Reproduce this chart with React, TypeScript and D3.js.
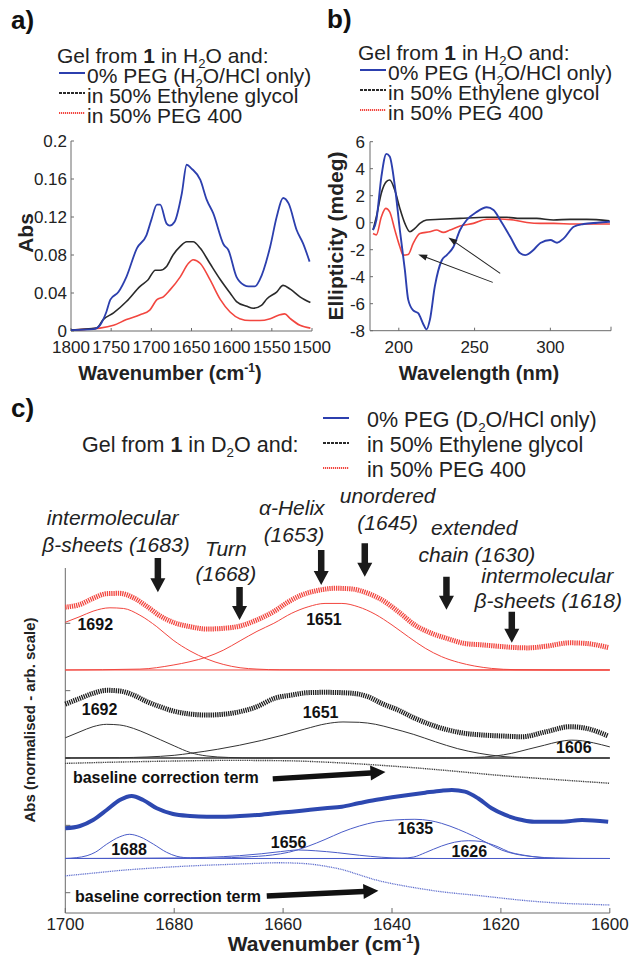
import React from "react";
import * as d3 from "d3";

type P = [number, number];

const FONT = '"Liberation Sans", Arial, Helvetica, sans-serif';
const BLUE = "#2c3fae";
const BLACK = "#2a2a2a";
const RED = "#f2463f";
const AXIS = "#6a6a6a";

// ---------- Panel a : FTIR in H2O ----------
const ftirXTicks = [1800, 1750, 1700, 1650, 1600, 1550, 1500];
const ftirYTicks = [0, 0.04, 0.08, 0.12, 0.16, 0.2];
const ftirBlue: P[] = [
  [1800, 0.001], [1772, 0.002], [1764, 0.006], [1756, 0.02], [1751, 0.033], [1741, 0.041], [1731, 0.057],
  [1718, 0.087], [1706, 0.101], [1700, 0.117], [1693, 0.133], [1689, 0.133], [1681, 0.113],
  [1677, 0.111], [1671, 0.115], [1662, 0.145], [1656, 0.175], [1650, 0.171], [1639, 0.159],
  [1631, 0.138], [1623, 0.124], [1610, 0.091], [1604, 0.085], [1594, 0.057], [1590, 0.052],
  [1579, 0.047], [1571, 0.047], [1565, 0.054], [1552, 0.089], [1544, 0.12], [1536, 0.14],
  [1529, 0.134], [1519, 0.106], [1511, 0.092], [1503, 0.073],
];
const ftirBlack: P[] = [
  [1800, 0.001], [1768, 0.003], [1760, 0.012], [1747, 0.019], [1731, 0.031], [1714, 0.047],
  [1704, 0.054], [1695, 0.064], [1689, 0.064], [1681, 0.068], [1673, 0.08], [1664, 0.089],
  [1656, 0.094], [1648, 0.094], [1639, 0.087], [1627, 0.071], [1614, 0.054], [1602, 0.04],
  [1594, 0.031], [1581, 0.026], [1573, 0.024], [1563, 0.027], [1556, 0.034], [1544, 0.041],
  [1536, 0.048], [1527, 0.044], [1515, 0.036], [1502, 0.03],
];
const ftirRed: P[] = [
  [1800, 0.001], [1764, 0.003], [1747, 0.006], [1731, 0.012], [1714, 0.017], [1702, 0.022],
  [1693, 0.033], [1685, 0.036], [1677, 0.043], [1664, 0.057], [1654, 0.071], [1648, 0.075],
  [1639, 0.071], [1627, 0.054], [1614, 0.033], [1602, 0.02], [1590, 0.013], [1577, 0.011],
  [1565, 0.011], [1552, 0.013], [1540, 0.017], [1534, 0.018], [1527, 0.013], [1515, 0.006],
  [1502, 0.003],
];

// ---------- Panel b : CD ----------
const cdXTicks = [200, 250, 300];
const cdYTicks = [-8, -6, -4, -2, 0, 2, 4, 6];
const cdBlue: P[] = [
  [183, -0.54], [185.2, 0.2], [188.5, 3.4], [191.8, 5.1], [194, 4.9], [197.4, 2.7], [200.7, -0.54],
  [204, -3.5], [206.2, -5.7], [209.5, -6.5], [212.8, -6.7], [216.1, -7.5], [218.3, -7.9],
  [220.5, -7.2], [223.8, -4.7], [228.3, -2.8], [231.6, -2.4], [236, -1.8], [240.4, -0.54],
  [244.8, 0.2], [251.4, 0.8], [258, 1.14], [262.5, 0.94], [266.9, 0.2], [273.5, -1.04],
  [280.1, -2.27], [283.4, -2.4], [289, -2.0], [293.4, -1.5], [300, -1.28], [304.4, -1.48],
  [308.8, -1.16], [315.4, -0.3], [322, -0.1], [330.9, 0], [339.3, 0.07],
];
const cdBlack: P[] = [
  [183, -0.54], [185.2, 0.44], [188.5, 2.2], [191.8, 3.04], [194, 3.16], [197.4, 2.4],
  [200.7, 1.06], [204, -0.05], [207.3, -0.67], [210.6, -0.42], [213.9, -0.05], [218.3, 0.2],
  [227.2, 0.25], [240.4, 0.32], [258, 0.4], [271.3, 0.4], [280, 0.32], [291, 0.32], [302, 0.2],
  [313, 0.25], [324, 0.25], [339, 0.15],
];
const cdRed: P[] = [
  [183, -0.8], [185.2, -0.9], [188.5, 0.44], [191.4, 1.06], [194, 0.8], [197.4, -0.54],
  [200.7, -1.78], [202.9, -2.4], [206.2, -2.35], [209.5, -1.53], [213.9, -0.8], [220.5, -0.67],
  [224.9, -0.54], [229.4, -0.72], [233.8, -0.54], [240.4, -0.25], [249.2, -0.05], [258, 0.25],
  [266.9, 0.27], [275.7, 0.2], [284.5, 0.02], [293.4, -0.05], [302.2, -0.05], [315.5, -0.1],
  [339.3, -0.1],
];
const cdArrowTails: P[] = [[266.9, -3.75], [262, -4.42]];
const cdArrowHeads: P[] = [[232.7, -1.09], [212.8, -2.35]];

// ---------- Panel c : deconvoluted FTIR in D2O ----------
const c2XTicks = [1700, 1680, 1660, 1640, 1620, 1600];
const c2YTicks = [0, 1, 2, 3, 4];

const cRedSum: P[] = [
  [1700, 4.24], [1697.3, 4.28], [1694.9, 4.37], [1692.4, 4.44], [1690, 4.445], [1687.5, 4.38],
  [1685, 4.25], [1682.6, 4.11], [1680.2, 4.015], [1677.1, 3.95], [1674, 3.915], [1671, 3.925],
  [1667.9, 3.96], [1664.8, 4.05], [1661.8, 4.17], [1659, 4.32], [1656.6, 4.42], [1653.5, 4.49],
  [1650.5, 4.52], [1647.4, 4.51], [1644.4, 4.445], [1641.9, 4.35], [1638.8, 4.17], [1635.8, 3.975],
  [1632.7, 3.85], [1629.7, 3.77], [1626.6, 3.7], [1623.5, 3.68], [1619.9, 3.655], [1617.4, 3.64],
  [1615, 3.635], [1611.7, 3.66], [1607.3, 3.71], [1604.3, 3.7], [1600.3, 3.64],
];
const cRed1692: P[] = [
  [1700, 4.015], [1697.3, 4.1], [1694.9, 4.18], [1691.8, 4.23], [1689.3, 4.22], [1686.3, 4.12],
  [1683.2, 3.95], [1680.2, 3.75], [1677.1, 3.59], [1674, 3.47], [1671, 3.39], [1667.9, 3.34],
  [1664.8, 3.32], [1660.6, 3.31], [1650, 3.307], [1600, 3.307],
];
const cRed1651: P[] = [
  [1700, 3.307], [1686.3, 3.32], [1680.2, 3.38], [1677.1, 3.43], [1674, 3.5], [1671, 3.6],
  [1667.9, 3.74], [1664.8, 3.88], [1661.7, 4.0], [1658.4, 4.15], [1655.4, 4.245], [1652.3, 4.295],
  [1649.2, 4.295], [1646.2, 4.245], [1643.1, 4.135], [1640, 3.975], [1637, 3.8], [1633.9, 3.63],
  [1630.9, 3.505], [1627.8, 3.42], [1624.8, 3.365], [1621.7, 3.33], [1617.4, 3.312], [1610, 3.307],
  [1600, 3.307],
];
const cRedBase: P[] = [[1700, 3.307], [1600, 3.307]];

const cBlackSum: P[] = [
  [1700, 2.8], [1697.3, 2.886], [1694.9, 2.96], [1692.4, 3.005], [1690, 2.995], [1687.5, 2.935],
  [1685, 2.836], [1682.6, 2.762], [1680.2, 2.698], [1677.1, 2.653], [1674, 2.638], [1671, 2.649],
  [1667.9, 2.688], [1664.8, 2.762], [1661.6, 2.886], [1658.4, 2.935], [1655.4, 2.97],
  [1652.3, 2.975], [1649.2, 2.97], [1646.2, 2.95], [1644.4, 2.91], [1641.9, 2.81], [1638.8, 2.71],
  [1635.8, 2.59], [1632.7, 2.49], [1629.7, 2.416], [1626.6, 2.366], [1623.5, 2.342],
  [1619.9, 2.327], [1616.1, 2.316], [1611.7, 2.39], [1607.3, 2.465], [1604.3, 2.44], [1600.3, 2.327],
];
const cBlack1692: P[] = [
  [1700, 2.3], [1697.3, 2.39], [1694.9, 2.465], [1692.4, 2.5], [1690, 2.49], [1687.5, 2.44],
  [1685, 2.36], [1682.5, 2.27], [1680, 2.18], [1677, 2.08], [1674, 2.03], [1670, 2.008],
  [1665, 2.0], [1600, 2.0],
];
const cBlack1651: P[] = [
  [1700, 2.0], [1690, 2.005], [1685, 2.015], [1680, 2.04], [1677, 2.07], [1672, 2.13],
  [1668, 2.19], [1664, 2.26], [1660, 2.34], [1656, 2.43], [1652, 2.51], [1649, 2.535],
  [1646, 2.53], [1643, 2.5], [1640, 2.44], [1636, 2.35], [1632, 2.24], [1628, 2.14],
  [1624, 2.07], [1620, 2.025], [1616, 2.005], [1610, 2.0], [1600, 2.0],
];
const cBlack1606: P[] = [
  [1700, 2.0], [1630, 2.0], [1625, 2.008], [1621, 2.03], [1618, 2.07], [1615, 2.13],
  [1612, 2.19], [1609.5, 2.24], [1607, 2.265], [1605, 2.255], [1603, 2.225], [1600, 2.165],
];
const cBlackBase: P[] = [[1700, 2.0], [1600, 2.0]];
const cBlackCorr: P[] = [
  [1700, 1.92], [1690, 1.94], [1680, 1.955], [1670, 1.965], [1660, 1.96], [1650, 1.93],
  [1640, 1.88], [1630, 1.815], [1620, 1.74], [1610, 1.68], [1600, 1.625],
];

const cBlueSum: P[] = [
  [1700, 0.956], [1697.3, 0.99], [1694.9, 1.079], [1692.4, 1.228], [1690, 1.376], [1687.8, 1.436],
  [1685.7, 1.376], [1683.2, 1.253], [1680.2, 1.168], [1677.1, 1.139], [1674, 1.129], [1671, 1.129],
  [1667.9, 1.139], [1664.8, 1.154], [1661.5, 1.18], [1658.4, 1.203], [1655.4, 1.228],
  [1652.3, 1.253], [1649.2, 1.277], [1646.2, 1.327], [1643.1, 1.376], [1640, 1.416], [1637, 1.451],
  [1633.9, 1.485], [1630.9, 1.515], [1629, 1.525], [1626.6, 1.5], [1624.2, 1.402], [1621.7, 1.253],
  [1619.2, 1.154], [1617.4, 1.104], [1616.1, 1.079], [1613.9, 1.054], [1608.8, 1.054],
  [1605.1, 1.079], [1600.3, 1.054],
];
const cBlue1688: P[] = [
  [1700, 0.509], [1698, 0.52], [1696, 0.55], [1694.5, 0.6], [1692.4, 0.72], [1690, 0.83],
  [1688.2, 0.867], [1686.3, 0.83], [1683.8, 0.72], [1681.4, 0.6], [1679.5, 0.54], [1677, 0.515],
  [1674, 0.508], [1600, 0.508],
];
const cBlue1656: P[] = [
  [1700, 0.508], [1690, 0.51], [1680, 0.515], [1674, 0.525], [1668, 0.55], [1664, 0.578],
  [1660.5, 0.61], [1657.2, 0.634], [1654, 0.622], [1650, 0.594], [1646, 0.556], [1642, 0.527],
  [1638, 0.512], [1632, 0.508], [1600, 0.508],
];
const cBlue1635: P[] = [
  [1700, 0.508], [1680, 0.509], [1672, 0.515], [1667, 0.53], [1662, 0.56], [1659, 0.6],
  [1655.4, 0.69], [1652.3, 0.79], [1649.2, 0.9], [1646, 0.99], [1643, 1.05], [1639.5, 1.08],
  [1635.8, 1.09], [1633, 1.07], [1630.9, 1.03], [1627.8, 0.94], [1624.8, 0.832], [1622.3, 0.73],
  [1619.9, 0.634], [1617.4, 0.575], [1614, 0.535], [1610, 0.515], [1605, 0.509], [1600, 0.508],
];
const cBlue1626: P[] = [
  [1700, 0.508], [1642, 0.508], [1638.2, 0.512], [1636, 0.53], [1633.9, 0.594], [1630.9, 0.693],
  [1628.5, 0.75], [1626, 0.772], [1623.5, 0.76], [1622.3, 0.733], [1620.5, 0.68], [1618.6, 0.609],
  [1616, 0.56], [1613, 0.525], [1610, 0.512], [1606, 0.508], [1600, 0.508],
];
const cBlueBase: P[] = [[1700, 0.508], [1600, 0.508]];
const cBlueCorr: P[] = [
  [1700, 0.25], [1695, 0.29], [1690, 0.33], [1685, 0.36], [1680, 0.385], [1675, 0.405],
  [1670, 0.42], [1665, 0.435], [1661, 0.445], [1658, 0.44], [1655, 0.425], [1652, 0.39],
  [1649, 0.34], [1646, 0.265], [1643, 0.19], [1640, 0.135], [1637, 0.09], [1634, 0.05],
  [1631, 0.015], [1628, -0.012], [1625, -0.035], [1621, -0.07], [1617, -0.105], [1612, -0.14],
  [1608, -0.16], [1604, -0.172], [1600, -0.183],
];

// peak labels: text, wavenumber (centre), level (baseline)
const cPeakLabels: { t: string; w: number; u: number }[] = [
  { t: "1692", w: 1694.5, u: 3.9 },
  { t: "1651", w: 1652.5, u: 3.975 },
  { t: "1692", w: 1693.7, u: 2.64 },
  { t: "1651", w: 1653.1, u: 2.595 },
  { t: "1606", w: 1606.6, u: 2.074 },
  { t: "1688", w: 1688.3, u: 0.56 },
  { t: "1656", w: 1659, u: 0.664 },
  { t: "1635", w: 1635.7, u: 0.872 },
  { t: "1626", w: 1625.8, u: 0.53 },
];
// band assignments (italic), centre wavenumber and baseline level
const cAssignText: { t: string; w: number; u: number }[] = [
  { t: "intermolecular", w: 1691.3, u: 5.46 },
  { t: "β-sheets (1683)", w: 1690.7, u: 5.06 },
  { t: "Turn", w: 1670.5, u: 5.0 },
  { t: "(1668)", w: 1670.5, u: 4.63 },
  { t: "α-Helix", w: 1658.4, u: 5.61 },
  { t: "(1653)", w: 1658, u: 5.21 },
  { t: "unordered", w: 1640.8, u: 5.79 },
  { t: "(1645)", w: 1640.8, u: 5.39 },
  { t: "extended", w: 1624.9, u: 5.31 },
  { t: "chain (1630)", w: 1624.4, u: 4.91 },
  { t: "intermolecular", w: 1611.5, u: 4.6 },
  { t: "β-sheets (1618)", w: 1611.3, u: 4.23 },
];
const cAssignArrowW = [1683, 1668, 1653, 1645, 1630, 1618];
const cAssignArrowTop = [4.97, 4.54, 5.09, 5.19, 4.69, 4.17];
const cAssignArrowBot = [4.46, 4.05, 4.57, 4.69, 4.2, 3.71];
// baseline-correction annotations
const cCorrLabels: { t: string; w: number; u: number }[] = [
  { t: "baseline correction term", w: 1698.6, u: 1.629 },
  { t: "baseline correction term", w: 1698.2, u: -0.138 },
];
const cCorrArrowTails: P[] = [[1661.9, 1.69], [1663, -0.05]];
const cCorrArrowTips: P[] = [[1641.2, 1.792], [1642.5, 0.03]];

// ---------- helpers ----------
function arrowPath(x1: number, y1: number, x2: number, y2: number, sw: number, hw: number, hl: number) {
  const dx = x2 - x1, dy = y2 - y1;
  const len = Math.hypot(dx, dy);
  const ux = dx / len, uy = dy / len;
  const nx = -uy, ny = ux;
  const bx = x2 - ux * hl, by = y2 - uy * hl;
  const pts: P[] = [
    [x1 + nx * sw / 2, y1 + ny * sw / 2],
    [bx + nx * sw / 2, by + ny * sw / 2],
    [bx + nx * hw / 2, by + ny * hw / 2],
    [x2, y2],
    [bx - nx * hw / 2, by - ny * hw / 2],
    [bx - nx * sw / 2, by - ny * sw / 2],
    [x1 - nx * sw / 2, y1 - ny * sw / 2],
  ];
  return "M" + pts.map((p) => p[0].toFixed(2) + "," + p[1].toFixed(2)).join("L") + "Z";
}

function LegendAB({ x, y, line }: { x: number; y: number; line: number }) {
  const rows = [
    { color: BLUE, dash: undefined as string | undefined, txt: "0% PEG (H", sub: "2", rest: "O/HCl only)" },
    { color: BLACK, dash: "3 1", txt: "in 50% Ethylene glycol", sub: "", rest: "" },
    { color: RED, dash: "1.2 0.8", txt: "in 50% PEG 400", sub: "", rest: "" },
  ];
  return (
    <g fontFamily={FONT} fontSize={21} fill="#222">
      <text x={x} y={y}>
        Gel from <tspan fontWeight="bold">1</tspan> in H
        <tspan fontSize="0.62em" dy={5}>2</tspan>
        <tspan dy={-5}>O and:</tspan>
      </text>
      {rows.map((r, i) => (
        <g key={i}>
          <line x1={line} x2={line + 26} y1={y + 20 * (i + 1) - 10} y2={y + 20 * (i + 1) - 10}
            stroke={r.color} strokeWidth={2} strokeDasharray={r.dash} />
          <text x={line + 28} y={y + 20 * (i + 1)}>
            {r.txt}
            {r.sub ? <tspan fontSize="0.62em" dy={5}>{r.sub}</tspan> : null}
            {r.sub ? <tspan dy={-5}>{r.rest}</tspan> : null}
          </text>
        </g>
      ))}
    </g>
  );
}

export default function App() {
  // ----- scales panel a -----
  const ax = d3.scaleLinear().domain([1800, 1500]).range([71, 312]);
  const ay = d3.scaleLinear().domain([0, 0.2]).range([331, 141]);
  const aLine = d3.line<P>().x((d) => ax(d[0])).y((d) => ay(d[1])).curve(d3.curveMonotoneX);

  // ----- scales panel b -----
  const bx = d3.scaleLinear().domain([181, 340]).range([370, 611]);
  const by = d3.scaleLinear().domain([-8, 6]).range([330.7, 141.7]);
  const bLine = d3.line<P>().x((d) => bx(d[0])).y((d) => by(d[1])).curve(d3.curveMonotoneX);

  // ----- scales panel c -----
  const cx = d3.scaleLinear().domain([1700, 1600]).range([65.3, 609.8]);
  const cy = d3.scaleLinear().domain([0, 4]).range([892.7, 623.3]);
  const cLine = d3.line<P>().x((d) => cx(d[0])).y((d) => cy(d[1])).curve(d3.curveMonotoneX);
  const cTop = 568, cBottom = 913;

  const fmtA = (v: number) => (v === 0 ? "0" : String(+v.toFixed(2)));

  return (
    <svg width={629} height={955} viewBox="0 0 629 955"
      style={{ position: "absolute", left: 0, top: 0, background: "#fff" }}
      fontFamily={FONT}>
      <rect x={0} y={0} width={629} height={955} fill="#fff" />

      {/* ================= Panel a ================= */}
      <text x={11} y={29} fontSize={26} fontWeight="bold" fill="#111">a)</text>
      <LegendAB x={57} y={63} line={59} />
      <g>
        <line x1={ax(1800)} x2={ax(1800)} y1={ay(0.2)} y2={ay(0)} stroke={AXIS} strokeWidth={1} />
        <line x1={ax(1800)} x2={ax(1500)} y1={ay(0)} y2={ay(0)} stroke={AXIS} strokeWidth={1} />
        {ftirYTicks.map((t) => (
          <g key={t}>
            <line x1={ax(1800)} x2={ax(1800) + 3} y1={ay(t)} y2={ay(t)} stroke={AXIS} />
            <text x={ax(1800) - 4} y={ay(t) + 6} textAnchor="end" fontSize={17} fill="#222">{fmtA(t)}</text>
          </g>
        ))}
        {ftirXTicks.map((t) => (
          <g key={t}>
            <line x1={ax(t)} x2={ax(t)} y1={ay(0)} y2={ay(0) - 3} stroke={AXIS} />
            <text x={ax(t)} y={353} textAnchor="middle" fontSize={17} fill="#222">{t}</text>
          </g>
        ))}
        <path d={aLine(ftirRed) || ""} fill="none" stroke={RED} strokeWidth={1.6} />
        <path d={aLine(ftirBlack) || ""} fill="none" stroke={BLACK} strokeWidth={1.6} />
        <path d={aLine(ftirBlue) || ""} fill="none" stroke={BLUE} strokeWidth={1.8} />
        <text transform="translate(26,233) rotate(-90)" textAnchor="middle" dy="0.35em"
          fontSize={21} fontWeight="bold" fill="#222">Abs</text>
        <text x={170} y={380} textAnchor="middle" fontSize={20} fontWeight="bold" fill="#222">
          Wavenumber (cm<tspan fontSize="0.6em" dy={-8}>-1</tspan><tspan dy={8}>)</tspan>
        </text>
      </g>

      {/* ================= Panel b ================= */}
      <text x={327} y={28} fontSize={26} fontWeight="bold" fill="#111">b)</text>
      <LegendAB x={358} y={60} line={360} />
      <g>
        <line x1={bx(181)} x2={bx(181)} y1={by(6)} y2={by(-8)} stroke={AXIS} strokeWidth={1} />
        <line x1={bx(181)} x2={bx(340)} y1={by(-8)} y2={by(-8)} stroke={AXIS} strokeWidth={1} />
        <line x1={bx(340)} x2={bx(340)} y1={by(-8)} y2={by(-8) - 4} stroke={AXIS} />
        {cdYTicks.map((t) => (
          <g key={t}>
            <line x1={bx(181)} x2={bx(181) + 3} y1={by(t)} y2={by(t)} stroke={AXIS} />
            <text x={bx(181) - 5} y={by(t) + 6} textAnchor="end" fontSize={17} fill="#222">{t}</text>
          </g>
        ))}
        {cdXTicks.map((t) => (
          <g key={t}>
            <line x1={bx(t)} x2={bx(t)} y1={by(-8)} y2={by(-8) - 3} stroke={AXIS} />
            <text x={bx(t)} y={353} textAnchor="middle" fontSize={17} fill="#222">{t}</text>
          </g>
        ))}
        <path d={bLine(cdBlack) || ""} fill="none" stroke={BLACK} strokeWidth={1.6} />
        <path d={bLine(cdRed) || ""} fill="none" stroke={RED} strokeWidth={1.6} />
        <path d={bLine(cdBlue) || ""} fill="none" stroke={BLUE} strokeWidth={1.9} />
        {cdArrowTails.map((tail, i) => {
          const x1 = bx(tail[0]), y1 = by(tail[1]);
          const x2 = bx(cdArrowHeads[i][0]), y2 = by(cdArrowHeads[i][1]);
          return <path key={i} d={arrowPath(x1, y1, x2, y2, 1, 6, 9)} fill="#222" />;
        })}
        <text transform="translate(336,236) rotate(-90)" textAnchor="middle" dy="0.35em"
          fontSize={21} fontWeight="bold" fill="#222">Ellipticity (mdeg)</text>
        <text x={479} y={380} textAnchor="middle" fontSize={20} fontWeight="bold" fill="#222">Wavelength (nm)</text>
      </g>

      {/* ================= Panel c ================= */}
      <text x={11} y={417} fontSize={26} fontWeight="bold" fill="#111">c)</text>
      <g fontSize={21.5} fill="#222">
        <text x={82} y={452}>
          Gel from <tspan fontWeight="bold">1</tspan> in D
          <tspan fontSize="0.62em" dy={5}>2</tspan>
          <tspan dy={-5}>O and:</tspan>
        </text>
        <line x1={323} x2={349} y1={418} y2={418} stroke={BLUE} strokeWidth={2} />
        <line x1={323} x2={349} y1={443} y2={443} stroke={BLACK} strokeWidth={2} strokeDasharray="3 1" />
        <line x1={323} x2={349} y1={468} y2={468} stroke={RED} strokeWidth={2} strokeDasharray="1.2 0.8" />
        <text x={367} y={427}>
          0% PEG (D<tspan fontSize="0.62em" dy={5}>2</tspan><tspan dy={-5}>O/HCl only)</tspan>
        </text>
        <text x={367} y={452}>in 50% Ethylene glycol</text>
        <text x={367} y={477}>in 50% PEG 400</text>
      </g>

      {/* assignment labels */}
      <g fontSize={21} fontStyle="italic" fill="#222" textAnchor="middle">
        {cAssignText.map((a, i) => (
          <text key={i} x={cx(a.w)} y={cy(a.u)}>{a.t}</text>
        ))}
      </g>
      {cAssignArrowW.map((w, i) => (
        <path key={i} d={arrowPath(cx(w), cy(cAssignArrowTop[i]), cx(w), cy(cAssignArrowBot[i]), 6.5, 15, 14)} fill="#1a1a1a" />
      ))}

      {/* axes */}
      <line x1={cx(1700)} x2={cx(1700)} y1={cTop} y2={cBottom} stroke={AXIS} strokeWidth={1} />
      <line x1={cx(1700)} x2={cx(1600)} y1={cBottom} y2={cBottom} stroke={AXIS} strokeWidth={1} />
      {c2YTicks.map((t) => (
        <line key={t} x1={cx(1700)} x2={cx(1700) + 5} y1={cy(t)} y2={cy(t)} stroke={AXIS} />
      ))}
      {c2XTicks.map((t) => (
        <g key={t}>
          <line x1={cx(t)} x2={cx(t)} y1={cBottom} y2={cBottom - 5} stroke={AXIS} />
          <text x={cx(t)} y={930} textAnchor="middle" fontSize={17} fill="#222">{t}</text>
        </g>
      ))}
      <text transform="translate(30,720) rotate(-90)" textAnchor="middle" dy="0.35em"
        fontSize={15} fontWeight="bold" fill="#222">Abs (normalised - arb. scale)</text>
      <text x={324} y={951} textAnchor="middle" fontSize={21} fontWeight="bold" fill="#222">
        Wavenumber (cm<tspan fontSize="0.6em" dy={-8}>-1</tspan><tspan dy={8}>)</tspan>
      </text>

      {/* red group */}
      <path d={cLine(cRedBase) || ""} fill="none" stroke={RED} strokeWidth={1} />
      <path d={cLine(cRed1692) || ""} fill="none" stroke={RED} strokeWidth={1} />
      <path d={cLine(cRed1651) || ""} fill="none" stroke={RED} strokeWidth={1} />
      <path d={cLine(cRedSum) || ""} fill="none" stroke={RED} strokeWidth={5} strokeDasharray="1.3 0.9" />

      {/* black group */}
      <path d={cLine(cBlackBase) || ""} fill="none" stroke="#3a3a3a" strokeWidth={1.1} />
      <path d={cLine(cBlack1692) || ""} fill="none" stroke="#333" strokeWidth={1} />
      <path d={cLine(cBlack1651) || ""} fill="none" stroke="#333" strokeWidth={1} />
      <path d={cLine(cBlack1606) || ""} fill="none" stroke="#333" strokeWidth={1} />
      <path d={cLine(cBlackCorr) || ""} fill="none" stroke="#333" strokeWidth={1.4} strokeDasharray="1 0.8" />
      <path d={cLine(cBlackSum) || ""} fill="none" stroke="#1e1e1e" strokeWidth={5} strokeDasharray="1.3 0.9" />

      {/* blue group */}
      <path d={cLine(cBlueBase) || ""} fill="none" stroke="#4a5cc8" strokeWidth={1.1} />
      <path d={cLine(cBlue1688) || ""} fill="none" stroke="#4a5cc8" strokeWidth={1} />
      <path d={cLine(cBlue1656) || ""} fill="none" stroke="#4a5cc8" strokeWidth={1} />
      <path d={cLine(cBlue1635) || ""} fill="none" stroke="#4a5cc8" strokeWidth={1} />
      <path d={cLine(cBlue1626) || ""} fill="none" stroke="#4a5cc8" strokeWidth={1} />
      <path d={cLine(cBlueCorr) || ""} fill="none" stroke="#5a6acc" strokeWidth={1.3} strokeDasharray="1 0.8" />
      <path d={cLine(cBlueSum) || ""} fill="none" stroke="#2d48b0" strokeWidth={4} />

      {/* peak labels */}
      <g fontSize={16} fontWeight="bold" fill="#111" textAnchor="middle">
        {cPeakLabels.map((p, i) => (
          <text key={i} x={cx(p.w)} y={cy(p.u)}>{p.t}</text>
        ))}
      </g>
      <g fontSize={16} fontWeight="bold" fill="#111">
        {cCorrLabels.map((p, i) => (
          <text key={i} x={cx(p.w)} y={cy(p.u)}>{p.t}</text>
        ))}
      </g>
      {cCorrArrowTails.map((t, i) => (
        <path key={i}
          d={arrowPath(cx(t[0]), cy(t[1]), cx(cCorrArrowTips[i][0]), cy(cCorrArrowTips[i][1]), 5.5, 15, 15)}
          fill="#111" />
      ))}
    </svg>
  );
}
